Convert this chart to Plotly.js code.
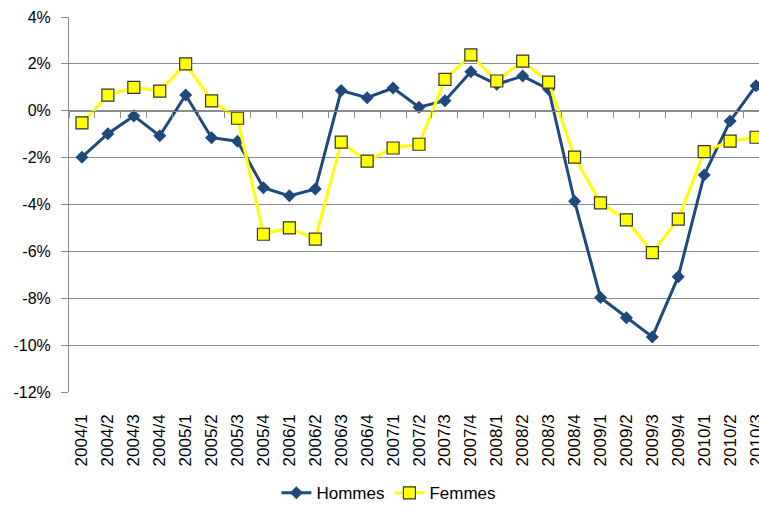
<!DOCTYPE html>
<html>
<head>
<meta charset="utf-8">
<script src="https://cdn.plot.ly/plotly-3.0.1.min.js"></script>
<style>
  html, body { margin: 0; padding: 0; overflow: hidden; background: #fff; }
  #chart { width: 769px; height: 505px; }
</style>
</head>
<body>
<div id="chart"></div>
<script>
const categories = ['2004/1','2004/2','2004/3','2004/4','2005/1','2005/2','2005/3','2005/4',
  '2006/1','2006/2','2006/3','2006/4','2007/1','2007/2','2007/3','2007/4',
  '2008/1','2008/2','2008/3','2008/4','2009/1','2009/2','2009/3','2009/4',
  '2010/1','2010/2','2010/3'];

const hommes = [-1.98, -0.98, -0.22, -1.07, 0.67, -1.15, -1.30, -3.28,
  -3.63, -3.34, 0.86, 0.56, 0.97, 0.15, 0.43, 1.66,
  1.13, 1.48, 0.92, -3.86, -7.97, -8.83, -9.65, -7.08,
  -2.74, -0.44, 1.07];

const femmes = [-0.52, 0.67, 1.00, 0.84, 2.00, 0.42, -0.32, -5.27,
  -5.00, -5.48, -1.34, -2.15, -1.59, -1.43, 1.34, 2.38,
  1.27, 2.12, 1.22, -1.98, -3.93, -4.66, -6.05, -4.62,
  -1.74, -1.30, -1.13];

const yTickVals = [-12, -10, -8, -6, -4, -2, 0, 2, 4];
const yTickText = ['-12%', '-10%', '-8%', '-6%', '-4%', '-2%', '0%', '2%', '4%'];

const FONT = '"Liberation Sans Narrow", "Arial Narrow", "Liberation Sans", Arial, sans-serif';
const GRID = '#8c8c8c';
const TEXT = '#000000';

const traces = [
  {
    x: categories, y: hommes, name: 'Hommes', type: 'scatter', mode: 'lines+markers',
    line: {color: '#1F497D', width: 3},
    marker: {symbol: 'diamond', size: 10, color: '#1F497D'},
    cliponaxis: false
  },
  {
    x: categories, y: femmes, name: 'Femmes', type: 'scatter', mode: 'lines+markers',
    line: {color: '#FFFF00', width: 3},
    marker: {symbol: 'square', size: 12, color: '#FFFF00', line: {color: '#333333', width: 1.2}},
    cliponaxis: false
  },
  {
    x: categories, y: hommes, xaxis: 'x2', type: 'scatter', mode: 'none',
    showlegend: false, hoverinfo: 'skip'
  }
];

const layout = {
  width: 769, height: 505,
  margin: {l: 69, r: 0, t: 17, b: 113, autoexpand: false},
  paper_bgcolor: '#ffffff', plot_bgcolor: '#ffffff',
  font: {family: FONT, color: TEXT},
  showlegend: true,
  legend: {
    orientation: 'h', x: 0.457, xanchor: 'center', y: -0.27, yanchor: 'middle',
    font: {family: FONT, size: 17, color: TEXT},
    itemwidth: 30, tracegroupgap: 0
  },
  xaxis: {
    type: 'category', range: [-0.5, 26.5], automargin: false,
    showgrid: false, zeroline: false, showline: false,
    ticks: '', tickangle: -90,
    tickfont: {family: FONT, size: 17, color: TEXT},
    ticklabelstandoff: 18
  },
  xaxis2: {
    type: 'category', range: [-0.5, 26.5], overlaying: 'x', anchor: 'free', position: 0.75,
    side: 'bottom', showgrid: false, zeroline: false, automargin: false,
    showline: true, linecolor: GRID, linewidth: 1,
    ticks: 'outside', tickson: 'boundaries', ticklen: 6, tickcolor: GRID, tickwidth: 1,
    showticklabels: false
  },
  yaxis: {
    range: [-12, 4], tickvals: yTickVals, ticktext: yTickText, automargin: false,
    showgrid: true, gridcolor: GRID, gridwidth: 1,
    zeroline: false, showline: true, linecolor: GRID, linewidth: 1,
    ticks: 'outside', ticklen: 7, tickcolor: GRID, tickwidth: 1,
    tickfont: {family: FONT, size: 16, color: TEXT},
    ticklabelstandoff: 7
  }
};

Plotly.newPlot('chart', traces, layout, {displayModeBar: false, staticPlot: true});
</script>
</body>
</html>
